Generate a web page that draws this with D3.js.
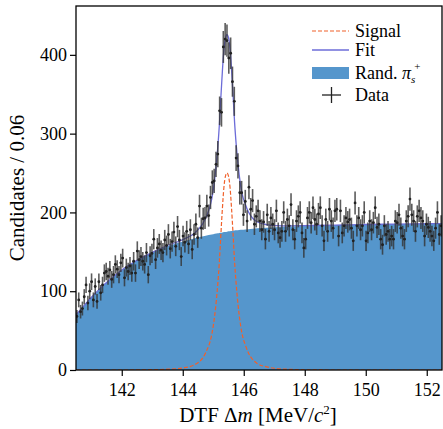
<!DOCTYPE html>
<html>
<head>
<meta charset="utf-8">
<script src="https://cdn.jsdelivr.net/npm/d3@7"></script>
<style>
  body { margin: 0; background: #fff; }
  svg text { font-family: "Liberation Serif", "Times New Roman", "DejaVu Serif", serif; }
</style>
</head>
<body>
<svg id="chart" width="443" height="429"></svg>
<script>
// histogram: 200 bins of 0.06 from 140.5
const binLo = 140.5;
const binWidth = 0.06;
const counts = [
  68, 89, 74, 78, 93, 108, 85, 100, 112, 89,
  106, 87, 112, 98, 108, 123, 125, 119, 127, 115,
  121, 134, 128, 121, 136, 142, 117, 130, 125, 132,
  123, 138, 123, 151, 140, 144, 138, 134, 149, 121,
  145, 148, 166, 140, 155, 160, 152, 149, 165, 158,
  172, 154, 163, 175, 157, 182, 165, 144, 170, 162,
  176, 160, 178, 153, 172, 185, 168, 208, 180, 192,
  193, 208, 196, 219, 238, 240, 261, 274, 329, 327,
  410, 420, 418, 396, 402, 366, 341, 269, 259, 225,
  225, 197, 214, 189, 232, 204, 215, 185, 195, 202,
  189, 178, 188, 166, 197, 176, 193, 185, 178, 202,
  174, 168, 176, 200, 176, 191, 183, 210, 178, 166,
  189, 195, 200, 174, 155, 166, 193, 200, 187, 206,
  191, 185, 198, 206, 183, 164, 191, 176, 204, 189,
  180, 202, 204, 170, 202, 174, 183, 193, 188, 191,
  180, 164, 212, 183, 193, 178, 183, 200, 164, 174,
  189, 178, 187, 206, 181, 185, 166, 159, 183, 172,
  176, 166, 170, 166, 189, 187, 197, 180, 170, 166,
  189, 195, 217, 197, 189, 176, 195, 202, 193, 189,
  170, 185, 181, 176, 170, 164, 180, 200, 172, 183
];

// fit components sampled along Delta m
const curveX = [140.5, 140.75, 141, 141.25, 141.5, 141.75, 142, 142.5, 143, 143.5,
  144, 144.45, 144.75, 144.95, 145.05, 145.15, 145.2, 145.25, 145.3, 145.35,
  145.4, 145.45, 145.5, 145.55, 145.6, 145.65, 145.7, 145.75, 145.85, 145.95,
  146.05, 146.15, 146.3, 146.45, 146.75, 147.05, 147.45, 148, 149, 150,
  151, 152, 152.5];
const bkgY = [70, 81, 92, 102, 111, 119, 127, 139, 149, 157,
  163, 168, 170.5, 172, 173, 173.5, 174, 174.3, 174.6, 175,
  175.3, 175.6, 176, 176.2, 176.5, 176.8, 177, 177.3, 177.7, 178,
  178.4, 178.8, 179.3, 179.8, 180.6, 181.3, 182, 183, 184, 184.7,
  185.2, 185.6, 185.8];
const sigY = [0, 0, 0, 0, 0, 0, 0, 0.1, 0.4, 1,
  2.5, 8, 22, 45, 70, 110, 137, 172, 205, 232,
  246, 250, 246, 232, 205, 172, 137, 110, 70, 45,
  32, 22, 13, 8, 4, 2, 1, 0.3, 0, 0,
  0, 0, 0];

const xTicks = [142, 144, 146, 148, 150, 152];
const yTicks = [0, 100, 200, 300, 400];

const legendItems = ['Signal', 'Fit', 'Rand.', 'Data'];

const W = 443, H = 429;
const margin = { top: 6, right: 1, bottom: 59, left: 76 };
const iw = W - margin.left - margin.right;
const ih = H - margin.top - margin.bottom;

const svg = d3.select('#chart');
const g = svg.append('g').attr('transform', `translate(${margin.left},${margin.top})`);

const x = d3.scaleLinear().domain([140.5, 152.5]).range([0, iw]);
const y = d3.scaleLinear().domain([0, 462]).range([ih, 0]);

const pts = counts.map((n, i) => ({ m: binLo + binWidth * (i + 0.5), n: n, e: Math.sqrt(n) }));
const comp = curveX.map((m, i) => ({ m: m, b: bkgY[i], s: sigY[i], f: bkgY[i] + sigY[i] }));

g.append('defs').append('clipPath').attr('id', 'clip')
  .append('rect').attr('width', iw).attr('height', ih);

const plot = g.append('g').attr('clip-path', 'url(#clip)');

plot.append('path')
  .datum(comp)
  .attr('fill', '#5596cc')
  .attr('d', d3.area().x(d => x(d.m)).y0(y(0)).y1(d => y(d.b)).curve(d3.curveMonotoneX));

plot.append('path')
  .datum(comp)
  .attr('fill', 'none')
  .attr('stroke', '#f0602a')
  .attr('stroke-width', 1.2)
  .attr('stroke-dasharray', '4,2')
  .attr('d', d3.line().x(d => x(d.m)).y(d => y(d.s)).curve(d3.curveMonotoneX));

plot.append('path')
  .datum(comp)
  .attr('fill', 'none')
  .attr('stroke', '#6c6cd8')
  .attr('stroke-width', 1.3)
  .attr('d', d3.line().x(d => x(d.m)).y(d => y(d.f)).curve(d3.curveMonotoneX));

const dat = plot.append('g');
dat.selectAll('line.ev').data(pts).enter().append('line')
  .attr('x1', d => x(d.m)).attr('x2', d => x(d.m))
  .attr('y1', d => y(d.n - d.e)).attr('y2', d => y(d.n + d.e))
  .attr('stroke', '#333').attr('stroke-opacity', 0.8).attr('stroke-width', 1.6);
dat.selectAll('line.eh').data(pts).enter().append('line')
  .attr('x1', d => x(d.m - binWidth / 2)).attr('x2', d => x(d.m + binWidth / 2))
  .attr('y1', d => y(d.n)).attr('y2', d => y(d.n))
  .attr('stroke', '#222').attr('stroke-width', 1.2);
dat.selectAll('circle').data(pts).enter().append('circle')
  .attr('cx', d => x(d.m)).attr('cy', d => y(d.n)).attr('r', 1.4)
  .attr('fill', '#222');

// axes
const xAxis = g.append('g').attr('transform', `translate(0,${ih})`)
  .call(d3.axisBottom(x).tickValues(xTicks).tickSize(6).tickSizeOuter(0).tickFormat(d3.format('d')));
const yAxis = g.append('g')
  .call(d3.axisLeft(y).tickValues(yTicks).tickSize(6).tickSizeOuter(0).tickFormat(d3.format('d')));
[xAxis, yAxis].forEach(a => {
  a.attr('font-family', null);
  a.select('.domain').remove();
  a.selectAll('line').attr('stroke', '#000').attr('stroke-width', 1.2);
  a.selectAll('text').attr('fill', '#000').attr('font-size', 18);
});
xAxis.selectAll('text').attr('dy', '0.95em');
yAxis.selectAll('text').attr('x', -9);

g.append('rect').attr('width', iw).attr('height', ih)
  .attr('fill', 'none').attr('stroke', '#000').attr('stroke-width', 1.3);

// axis titles
const xl = svg.append('text')
  .attr('x', margin.left + iw / 2 - 1).attr('y', 422)
  .attr('text-anchor', 'middle').attr('font-size', 21);
xl.append('tspan').text('DTF Δ');
xl.append('tspan').attr('font-style', 'italic').text('m');
xl.append('tspan').text(' [MeV/');
xl.append('tspan').attr('font-style', 'italic').text('c');
xl.append('tspan').attr('font-size', 13).attr('dy', -8).text('2');
xl.append('tspan').attr('dy', 8).text(']');

svg.append('text')
  .attr('transform', `translate(24,${margin.top + ih / 2}) rotate(-90)`)
  .attr('text-anchor', 'middle').attr('font-size', 21)
  .text('Candidates / 0.06');

// legend
const lg = svg.append('g');
const lx0 = 312, lx1 = 349, tx = 355;
lg.append('line').attr('x1', lx0).attr('x2', lx1).attr('y1', 31).attr('y2', 31)
  .attr('stroke', '#f0602a').attr('stroke-width', 1.2).attr('stroke-dasharray', '4,2');
lg.append('line').attr('x1', lx0).attr('x2', lx1).attr('y1', 50).attr('y2', 50)
  .attr('stroke', '#6c6cd8').attr('stroke-width', 1.3);
lg.append('rect').attr('x', lx0).attr('y', 67).attr('width', lx1 - lx0).attr('height', 12)
  .attr('fill', '#5596cc');
lg.append('line').attr('x1', 322).attr('x2', 341).attr('y1', 95).attr('y2', 95)
  .attr('stroke', '#222').attr('stroke-width', 1.3);
lg.append('line').attr('x1', 331.5).attr('x2', 331.5).attr('y1', 87).attr('y2', 103)
  .attr('stroke', '#222').attr('stroke-width', 1.3);

const ly = [31, 50, 73, 95];
lg.selectAll('text.lt').data(legendItems).enter().append('text')
  .attr('x', tx).attr('y', (d, i) => ly[i] + 6).attr('font-size', 18)
  .each(function (d, i) {
    const t = d3.select(this);
    t.append('tspan').text(d);
    if (i === 2) {
      t.append('tspan').text(' ');
      t.append('tspan').attr('font-style', 'italic').text('π');
      t.append('tspan').attr('font-style', 'italic').attr('font-size', 11).attr('dy', 4).text('s');
      t.append('tspan').attr('font-size', 11).attr('dx', -1).attr('dy', -13).text('+');
    }
  });
</script>
</body>
</html>
